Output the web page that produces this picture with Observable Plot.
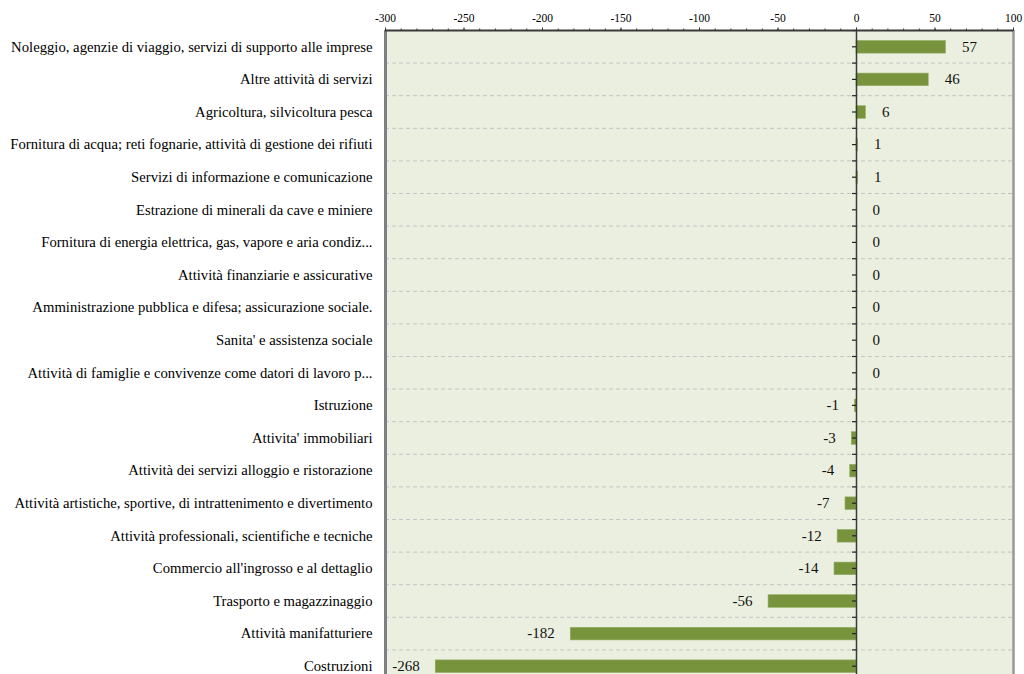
<!DOCTYPE html>
<html>
<head>
<meta charset="utf-8">
<script src="https://cdn.jsdelivr.net/npm/d3@7"></script>
<script src="https://cdn.jsdelivr.net/npm/@observablehq/plot@0.6"></script>
<style>
  html, body { margin: 0; padding: 0; background: #ffffff; overflow: hidden; }
  #chart svg { display: block; }
  #chart svg, #chart svg text { font-family: "Liberation Serif", "DejaVu Serif", "Times New Roman", serif !important; }
</style>
</head>
<body>
<div id="chart"></div>
<script>
const categories = [
  "Noleggio, agenzie di viaggio, servizi di supporto alle imprese",
  "Altre attività di servizi",
  "Agricoltura, silvicoltura pesca",
  "Fornitura di acqua; reti fognarie, attività di gestione dei rifiuti",
  "Servizi di informazione e comunicazione",
  "Estrazione di minerali da cave e miniere",
  "Fornitura di energia elettrica, gas, vapore e aria condiz...",
  "Attività finanziarie e assicurative",
  "Amministrazione pubblica e difesa; assicurazione sociale.",
  "Sanita' e assistenza sociale",
  "Attività di famiglie e convivenze come datori di lavoro p...",
  "Istruzione",
  "Attivita' immobiliari",
  "Attività dei servizi alloggio e ristorazione",
  "Attività artistiche, sportive, di intrattenimento e divertimento",
  "Attività professionali, scientifiche e tecniche",
  "Commercio all'ingrosso e al dettaglio",
  "Trasporto e magazzinaggio",
  "Attività manifatturiere",
  "Costruzioni"
];
const values = [57, 46, 6, 1, 1, 0, 0, 0, 0, 0, 0, -1, -3, -4, -7, -12, -14, -56, -182, -268];
const xTicks = [-300, -250, -200, -150, -100, -50, 0, 50, 100];

const data = categories.map((c, i) => ({cat: c, v: values[i]}));
const xDomain = [xTicks[0], xTicks[xTicks.length - 1]];
const minorTicks = d3.range(xDomain[0], xDomain[1] + 1, 10);

const W = 1024, H = 688, mT = 30, mB = 6, mL = 385, mR = 11;
const bw = (H - mT - mB) / categories.length;
const pxPerUnit = (W - mL - mR) / (xDomain[1] - xDomain[0]);

const neg = data.filter(d => d.v < 0);
const pos = data.filter(d => d.v >= 0);
// labels of negative bars: placed outside, unless they would cross the plot edge
const negNormal = neg.filter(d => (d.v - xDomain[0]) * pxPerUnit > 16 + 32);
const negTight = neg.filter(d => (d.v - xDomain[0]) * pxPerUnit <= 16 + 32);

const font = "Liberation Serif";

const chart = Plot.plot({
  width: W,
  height: H,
  marginTop: mT,
  marginBottom: mB,
  marginLeft: mL,
  marginRight: mR,
  style: {fontFamily: font, background: "#ffffff", color: "#000"},
  x: {domain: xDomain, axis: null, label: null},
  y: {domain: categories, padding: 0, round: false, axis: null, label: null},
  marks: [
    Plot.frame({fill: "#ebefdf", stroke: null}),
    // dashed row separators
    Plot.ruleY(categories.slice(0, -1), {y: d => d, dy: bw / 2, stroke: "#c4c4c4", strokeWidth: 1, strokeDasharray: "4,3"}),
    // bars
    Plot.barX(data, {y: "cat", x1: 0, x2: "v", fill: "#77933c", stroke: "#95ad63", strokeWidth: 0.6, insetTop: 10.5, insetBottom: 9.5}),
    // zero axis
    Plot.ruleX([0], {stroke: "#3a3a3a", strokeWidth: 1.5}),
    Plot.ruleY(categories, {y: d => d, x1: -4 / pxPerUnit, x2: 0, stroke: "#222", strokeWidth: 1.2}),
    Plot.ruleY(categories, {y: d => d, dy: bw / 2, x1: -4 / pxPerUnit, x2: 0, stroke: "#222", strokeWidth: 1.2}),
    Plot.ruleY(categories.slice(0, 1), {y: d => d, dy: -bw / 2, x1: -4 / pxPerUnit, x2: 0, stroke: "#222", strokeWidth: 1.2}),
    // borders
    Plot.ruleX([xDomain[0]], {stroke: "#7f7f7f", strokeWidth: 3}),
    Plot.ruleX([xDomain[1]], {stroke: "#999999", strokeWidth: 2.5}),
    Plot.ruleY(categories.slice(0, 1), {y: d => d, dy: -bw / 2, stroke: "#3a3a3a", strokeWidth: 1.8}),
    // top axis
    Plot.axisX({anchor: "top", ticks: minorTicks, tickSize: 2.5, tickFormat: () => "", label: null, stroke: "#333"}),
    Plot.axisX({anchor: "top", ticks: xTicks, tickSize: 3.5, tickPadding: 5, tickFormat: d => String(d), label: null, fontSize: 11.5, fontFamily: font, stroke: "#333", fill: "#000"}),
    // category labels
    Plot.axisY({anchor: "left", tickSize: 0, tickPadding: 13, label: null, fontSize: 14.7, fontFamily: font, fill: "#000"}),
    // value labels
    Plot.text(pos, {y: "cat", x: "v", text: d => String(d.v), textAnchor: "start", dx: 16, fontSize: 15, fontFamily: font, fill: "#111"}),
    Plot.text(negNormal, {y: "cat", x: "v", text: d => String(d.v), textAnchor: "end", dx: -16, fontSize: 15, fontFamily: font, fill: "#111"}),
    Plot.text(negTight, {y: "cat", x: "v", text: d => String(d.v), textAnchor: "end", dx: 0, fontSize: 15, fontFamily: font, fill: "#111"})
  ]
});

document.getElementById("chart").appendChild(chart);
</script>
</body>
</html>
